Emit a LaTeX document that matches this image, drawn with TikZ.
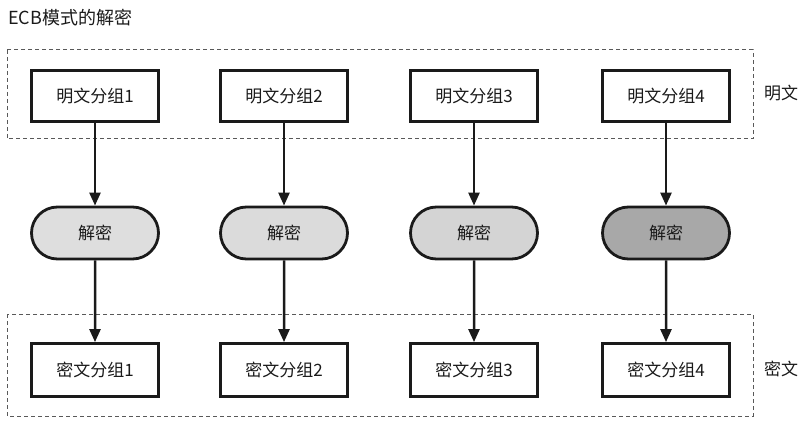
\documentclass[tikz,border=0pt]{standalone}
\usepackage{fontspec}
\setmainfont{Noto Sans CJK SC}
\usetikzlibrary{arrows.meta,shapes.misc}
\definecolor{ink}{HTML}{1A1A1A}
\tikzset{
  blockbox/.style={draw=ink, line width=2.8pt, fill=white, minimum width=127pt, minimum height=51pt, inner sep=0pt, font=\fontsize{17}{19}\selectfont, text=ink},
  pill/.style={draw=ink, line width=2.8pt, rounded rectangle, minimum width=127pt, minimum height=52pt, inner sep=0pt, font=\fontsize{17}{19}\selectfont, text=ink},
  group/.style={draw=gray!70!black, line width=1pt, dash pattern=on 4pt off 3pt},
  flow/.style={draw=ink, line width=2.5pt, -{Triangle[length=13pt,width=11pt]}},
  sidelabel/.style={font=\fontsize{17}{19}\selectfont, text=ink, inner sep=0pt},
}
\begin{document}
\begin{tikzpicture}[x=1pt,y=-1pt]
\useasboundingbox (0,0) rectangle (802,422);
\node[anchor=west, inner sep=0pt, font=\fontsize{18}{20}\selectfont, text=ink] (title) at (8,18) {ECB模式的解密};
\draw[group] (7,50) rectangle (753,139);
\draw[group] (7,314) rectangle (753,416);
\node[sidelabel] (lp) at (781,93) {明文};
\node[sidelabel] (lc) at (781,369) {密文};
\foreach \i/\x/\f in {1/95/13, 2/284/14, 3/474/17, 4/666/34}{
  \node[blockbox] (p\i) at (\x,96) {明文分组\i};
  \node[pill, fill=black!\f] (d\i) at (\x,233) {解密};
  \node[blockbox, minimum height=53pt] (c\i) at (\x,370) {密文分组\i};
  \draw[flow] (p\i) -- (d\i);
  \draw[flow] (d\i) -- (c\i);
}
\end{tikzpicture}
\end{document}
